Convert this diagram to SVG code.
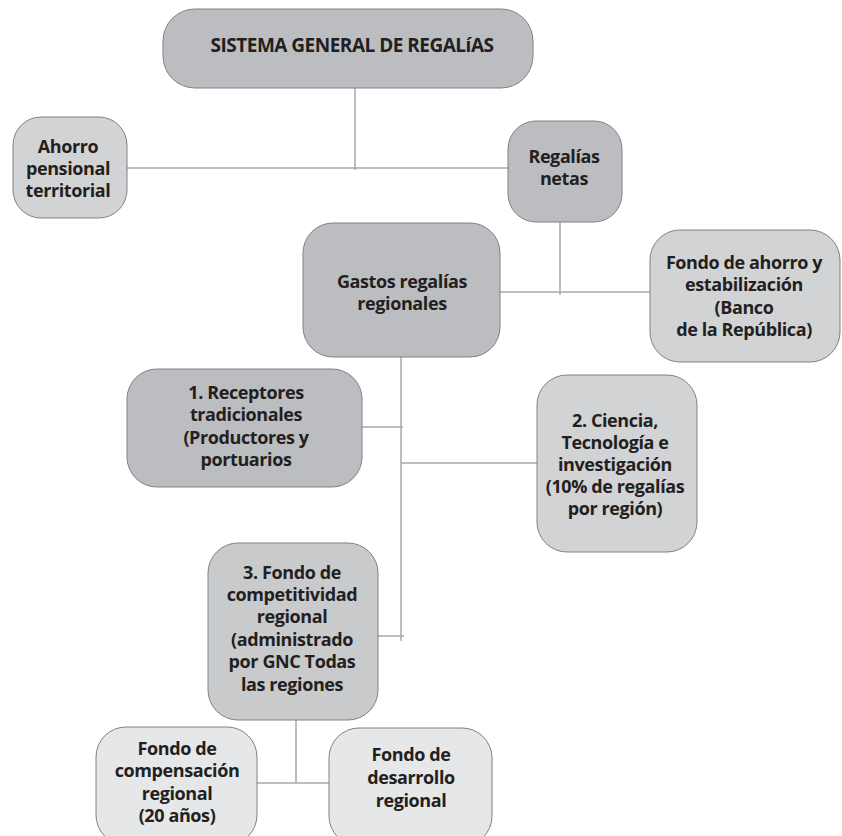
<svg xmlns="http://www.w3.org/2000/svg" width="842" height="836" viewBox="0 0 842 836">
<style>
.n{stroke:#7f8184;stroke-width:1}
.dk{fill:#bcbdc0}
.lt{fill:#d2d3d5}
.md{fill:#c9cacc}
.xl{fill:#e6e7e8}
.c{fill:none;stroke:#a7a9ac;stroke-width:1.5}
text{font-family:"Open Sans","DejaVu Sans",sans-serif;font-weight:700;font-size:18px;letter-spacing:-0.4px;fill:#231f20;text-anchor:middle}
.t{font-size:19px;letter-spacing:-0.5px}
</style>
<rect width="842" height="836" fill="#ffffff"/>
<g id="connectors">
<path class="c" d="M355 88V170"/>
<path class="c" d="M127 168H508"/>
<path class="c" d="M560 222V295"/>
<path class="c" d="M500 292H650"/>
<path class="c" d="M401 357V641"/>
<path class="c" d="M362 427H403"/>
<path class="c" d="M401 463H537"/>
<path class="c" d="M378 636H404"/>
<path class="c" d="M296 720V783"/>
<path class="c" d="M257 783H329"/>
</g>
<g id="sistema">
<rect class="n dk" x="163" y="9" width="370" height="79" rx="32"/>
<text class="t" x="352" y="52">SISTEMA GENERAL DE REGALíAS</text>
</g>
<g id="ahorro-pensional">
<rect class="n lt" x="13" y="117" width="114" height="101" rx="28"/>
<text x="68" y="153">Ahorro</text>
<text x="68" y="175">pensional</text>
<text x="68" y="197">territorial</text>
</g>
<g id="regalias-netas">
<rect class="n dk" x="508" y="121" width="114" height="101" rx="28"/>
<text x="564" y="163">Regalías</text>
<text x="564" y="185">netas</text>
</g>
<g id="gastos">
<rect class="n dk" x="303" y="223" width="197" height="134" rx="30"/>
<text x="402" y="288">Gastos regalías</text>
<text x="402" y="310">regionales</text>
</g>
<g id="fondo-ahorro">
<rect class="n lt" x="650" y="230" width="190" height="132" rx="30"/>
<text x="744" y="269">Fondo de ahorro y</text>
<text x="744" y="291">estabilización</text>
<text x="744" y="314">(Banco</text>
<text x="744" y="336">de la República)</text>
</g>
<g id="receptores">
<rect class="n dk" x="127" y="369" width="235" height="118" rx="30"/>
<text x="246" y="399">1. Receptores</text>
<text x="246" y="421">tradicionales</text>
<text x="246" y="444">(Productores y</text>
<text x="246" y="466">portuarios</text>
</g>
<g id="ciencia">
<rect class="n lt" x="537" y="375" width="160" height="177" rx="30"/>
<text x="615" y="427">2. Ciencia,</text>
<text x="615" y="449">Tecnología e</text>
<text x="615" y="471">investigación</text>
<text x="615" y="493">(10% de regalías</text>
<text x="615" y="515">por región)</text>
</g>
<g id="fondo-competitividad">
<rect class="n md" x="208" y="543" width="170" height="177" rx="30"/>
<text x="292" y="579">3. Fondo de</text>
<text x="292" y="601">competitividad</text>
<text x="292" y="623">regional</text>
<text x="292" y="646">(administrado</text>
<text x="292" y="668">por GNC Todas</text>
<text x="292" y="691">las regiones</text>
</g>
<g id="fondo-compensacion">
<rect class="n xl" x="96" y="727" width="161" height="118" rx="30"/>
<text x="177" y="755">Fondo de</text>
<text x="177" y="777">compensación</text>
<text x="177" y="800">regional</text>
<text x="177" y="822">(20 años)</text>
</g>
<g id="fondo-desarrollo">
<rect class="n xl" x="329" y="728" width="163" height="118" rx="30"/>
<text x="411" y="761">Fondo de</text>
<text x="411" y="784">desarrollo</text>
<text x="411" y="807">regional</text>
</g>
</svg>
